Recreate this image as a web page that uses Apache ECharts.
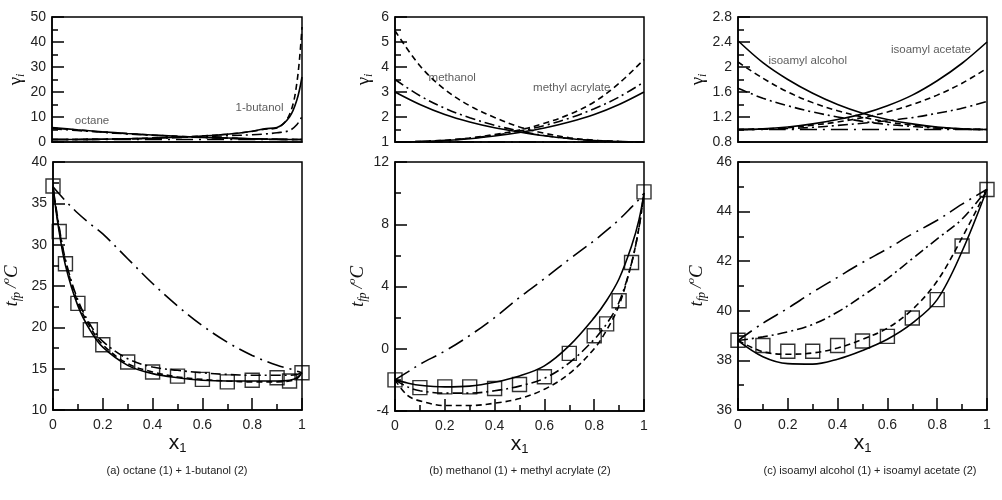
<!DOCTYPE html>
<html>
<head>
<meta charset="utf-8">
<script src="https://cdn.jsdelivr.net/npm/echarts@6/dist/echarts.min.js"></script>
<style>
    html, body { margin: 0; padding: 0; background: #fff; }
    #chart { width: 1002px; height: 500px; }
</style>
</head>
<body>
<div id="chart"></div>
<script>
// ---- data ----
// (a) octane (1) + 1-butanol (2), activity coefficients
const X_A_TOP = [0, 0.1, 0.2, 0.3, 0.4, 0.5, 0.6, 0.7, 0.8, 0.85, 0.9, 0.95, 0.98, 1];
const GA1_SOLID = [5.8, 4.9, 4.1, 3.4, 2.8, 2.3, 1.9, 1.6, 1.3, 1.18, 1.08, 1.02, 1.0, 1.0];
const GA1_DASH = [5.6, 4.8, 4.0, 3.35, 2.75, 2.25, 1.85, 1.55, 1.28, 1.16, 1.07, 1.02, 1.0, 1.0];
const GA1_DD = [5.3, 4.6, 3.9, 3.25, 2.7, 2.2, 1.8, 1.5, 1.25, 1.15, 1.07, 1.02, 1.0, 1.0];
const GA2_SOLID = [1.0, 1.03, 1.12, 1.3, 1.55, 1.9, 2.4, 3.1, 4.3, 5.3, 5.8, 10, 17, 26];
const GA2_DASH = [1.0, 1.03, 1.12, 1.3, 1.55, 1.9, 2.4, 3.1, 4.2, 5.1, 5.6, 11, 24, 46];
const GA2_DD = [1.0, 1.03, 1.1, 1.25, 1.45, 1.75, 2.1, 2.5, 2.9, 3.2, 3.7, 4.6, 7.0, 10.2];

// (a) flash points
const X_A_BOT = [0, 0.02, 0.05, 0.1, 0.15, 0.2, 0.3, 0.4, 0.5, 0.6, 0.7, 0.8, 0.9, 0.95, 0.98, 1];
const TA_SOLID = [37, 32.5, 27.5, 22.6, 19.6, 17.6, 15.4, 14.4, 13.9, 13.6, 13.5, 13.5, 13.5, 13.6, 13.9, 14.5];
const TA_DASH = [37, 32.8, 28.0, 23.0, 20.0, 17.9, 15.6, 14.6, 14.0, 13.7, 13.5, 13.4, 13.4, 13.5, 13.8, 14.5];
const TA_DD = [37, 33.0, 28.2, 23.3, 20.3, 18.3, 16.2, 15.2, 14.8, 14.5, 14.3, 14.2, 14.2, 14.2, 14.3, 14.5];
const TA_IDEAL = [37, 36.3, 35.3, 33.8, 32.5, 31.3, 28.3, 25.3, 22.6, 20.2, 18.2, 16.6, 15.4, 15.0, 14.7, 14.5];
const XA_EXP = [0, 0.025, 0.05, 0.1, 0.15, 0.2, 0.3, 0.4, 0.5, 0.6, 0.7, 0.8, 0.9, 0.95, 1];
const TA_EXP = [37.1, 31.6, 27.7, 22.9, 19.7, 17.9, 15.8, 14.6, 14.1, 13.7, 13.4, 13.6, 13.9, 13.5, 14.5];

// (b) methanol (1) + methyl acrylate (2)
const X_B_TOP = [0, 0.1, 0.2, 0.3, 0.4, 0.5, 0.6, 0.7, 0.8, 0.9, 1];
const GB1_SOLID = [3.0, 2.5, 2.1, 1.8, 1.57, 1.4, 1.25, 1.14, 1.06, 1.02, 1.0];
const GB1_DASH = [5.45, 4.05, 3.1, 2.45, 1.98, 1.6, 1.35, 1.17, 1.07, 1.02, 1.0];
const GB1_DD = [3.5, 2.85, 2.35, 1.97, 1.67, 1.44, 1.26, 1.14, 1.06, 1.02, 1.0];
const GB2_SOLID = [1.0, 1.02, 1.06, 1.13, 1.24, 1.38, 1.56, 1.8, 2.1, 2.5, 3.0];
const GB2_DASH = [1.0, 1.02, 1.07, 1.16, 1.3, 1.48, 1.75, 2.1, 2.6, 3.35, 4.3];
const GB2_DD = [1.0, 1.02, 1.07, 1.15, 1.27, 1.44, 1.66, 1.95, 2.33, 2.8, 3.4];

const X_B_BOT = [0, 0.05, 0.1, 0.2, 0.3, 0.4, 0.5, 0.6, 0.7, 0.8, 0.85, 0.9, 0.95, 0.98, 1];
const TB_SOLID = [-2.0, -2.2, -2.35, -2.45, -2.4, -2.15, -1.75, -1.1, 0.2, 2.0, 3.1, 4.5, 6.6, 8.3, 10.0];
const TB_DASH = [-2.0, -3.0, -3.35, -3.65, -3.65, -3.5, -3.2, -2.6, -1.6, 0.0, 1.2, 2.8, 5.5, 7.8, 10.0];
const TB_DD = [-2.0, -2.45, -2.7, -2.85, -2.85, -2.7, -2.4, -1.9, -0.9, 0.6, 1.6, 3.0, 5.5, 7.8, 10.0];
const TB_IDEAL = [-2.0, -1.5, -1.0, -0.15, 0.85, 2.0, 3.3, 4.5, 5.75, 6.95, 7.6, 8.3, 9.1, 9.6, 10.0];
const XB_EXP = [0, 0.1, 0.2, 0.3, 0.4, 0.5, 0.6, 0.7, 0.8, 0.85, 0.9, 0.95, 1];
const TB_EXP = [-2.0, -2.5, -2.45, -2.45, -2.55, -2.3, -1.8, -0.3, 0.84, 1.6, 3.08, 5.54, 10.08];

// (c) isoamyl alcohol (1) + isoamyl acetate (2)
const X_C_TOP = [0, 0.1, 0.2, 0.3, 0.4, 0.5, 0.6, 0.7, 0.8, 0.9, 1];
const GC1_SOLID = [2.42, 2.07, 1.8, 1.58, 1.4, 1.26, 1.16, 1.09, 1.04, 1.01, 1.0];
const GC1_DASH = [2.08, 1.82, 1.6, 1.43, 1.3, 1.2, 1.12, 1.07, 1.03, 1.01, 1.0];
const GC1_DD = [1.66, 1.5, 1.38, 1.28, 1.2, 1.13, 1.08, 1.05, 1.02, 1.005, 1.0];
const GC2_SOLID = [1.0, 1.01, 1.04, 1.09, 1.16, 1.25, 1.38, 1.55, 1.78, 2.06, 2.4];
const GC2_DASH = [1.0, 1.01, 1.03, 1.07, 1.12, 1.19, 1.28, 1.4, 1.55, 1.74, 1.98];
const GC2_DD = [1.0, 1.004, 1.015, 1.035, 1.065, 1.1, 1.14, 1.19, 1.26, 1.34, 1.45];

const X_C_BOT = [0, 0.1, 0.2, 0.3, 0.4, 0.5, 0.6, 0.7, 0.8, 0.9, 1];
const TC_SOLID = [38.8, 38.15, 37.87, 37.85, 38.05, 38.4, 38.85, 39.5, 40.45, 42.4, 44.9];
const TC_DASH = [38.8, 38.35, 38.25, 38.3, 38.5, 38.85, 39.3, 40.05, 41.2, 42.95, 44.9];
const TC_DD = [38.8, 38.95, 39.15, 39.45, 39.95, 40.6, 41.3, 42.1, 42.9, 43.7, 44.9];
const TC_IDEAL = [38.8, 39.5, 40.1, 40.75, 41.35, 41.95, 42.5, 43.1, 43.65, 44.3, 44.9];
const TC_EXP = [38.81, 38.6, 38.37, 38.37, 38.6, 38.78, 38.97, 39.71, 40.45, 42.61, 44.89];

// ideal solution: gamma = 1
const X_IDEAL = [0, 1];
const G_IDEAL = [1, 1];

// curve labels in the gamma panels [x, y, text]
const NOTES_A = [[0.16, 8.4, 'octane'], [0.83, 13.6, '1-butanol']];
const NOTES_B = [[0.23, 3.56, 'methanol'], [0.71, 3.16, 'methyl acrylate']];
const NOTES_C = [[0.28, 2.1, 'isoamyl alcohol'], [0.775, 2.27, 'isoamyl acetate']];

const CAPTIONS = ['(a) octane (1) + 1-butanol (2)', '(b) methanol (1) + methyl acrylate (2)', '(c) isoamyl alcohol (1) + isoamyl acetate (2)'];

// ---- styles ----
const SOLID = 'solid';
const SHORT = [6, 4];
const DASHDOT = [10, 4, 2, 4];
const LONGDD = [17, 6, 2, 6];
const SANS = 'Liberation Sans, Arial, sans-serif';
const SERIF = 'Liberation Serif, Times New Roman, serif';

// grid boxes: left, top, width, height
const GRIDS = [
    [52, 17, 250, 125], [52, 162, 250, 248],
    [395, 17, 249, 125], [395, 162, 249, 249],
    [738, 17, 249, 125], [738, 162, 249, 248]
];
// caption centres
const CAPTION_X = [177, 520, 870];

const chart = echarts.init(document.getElementById('chart'), null, { renderer: 'canvas' });

const curve = (xs, ys, idx, dash) => ({
    type: 'line',
    xAxisIndex: idx,
    yAxisIndex: idx,
    data: xs.map((x, i) => [x, ys[i]]),
    smooth: 0.35,
    symbol: 'none',
    silent: true,
    lineStyle: { color: '#000', width: 1.6, type: dash }
});

const squares = (xs, ys, idx) => ({
    type: 'scatter',
    xAxisIndex: idx,
    yAxisIndex: idx,
    data: xs.map((x, i) => [x, ys[i]]),
    symbol: 'rect',
    symbolSize: 14,
    silent: true,
    z: 5,
    itemStyle: { color: 'rgba(255,255,255,0)', borderColor: '#000', borderWidth: 1.4 }
});

const notes = (arr, idx) => ({
    type: 'scatter',
    xAxisIndex: idx,
    yAxisIndex: idx,
    data: arr.map(n => ({ value: [n[0], n[1]], name: n[2] })),
    symbolSize: 1,
    silent: true,
    itemStyle: { color: 'rgba(0,0,0,0)' },
    label: { show: true, position: 'inside', formatter: '{b}', color: '#333', fontSize: 11.5, fontFamily: SANS }
});

const gammaName = '{g|γ}{s|i}';
const tName = '{t|t}{s|fp}{n| /}{o|o}{c|C}';
const nameRich = {
    g: { fontFamily: SERIF, fontSize: 19, lineHeight: 22, verticalAlign: 'middle', color: '#111' },
    t: { fontFamily: SERIF, fontSize: 19, fontStyle: 'italic', lineHeight: 22, verticalAlign: 'middle', color: '#111' },
    c: { fontFamily: SERIF, fontSize: 19, fontStyle: 'italic', lineHeight: 22, verticalAlign: 'middle', color: '#111' },
    n: { fontFamily: SERIF, fontSize: 16, fontStyle: 'italic', lineHeight: 22, verticalAlign: 'middle', color: '#111' },
    s: { fontFamily: SERIF, fontSize: 12, fontStyle: 'italic', lineHeight: 12, verticalAlign: 'bottom', color: '#111' },
    o: { fontFamily: SERIF, fontSize: 11, fontStyle: 'italic', lineHeight: 12, verticalAlign: 'top', color: '#111' }
};

const xAx = (idx, bottom) => ({
    gridIndex: idx,
    type: 'value',
    min: 0,
    max: 1,
    interval: 0.2,
    name: bottom ? '{x|x}{s|1}' : '',
    nameLocation: 'middle',
    nameGap: 21,
    nameTextStyle: {
        rich: {
            x: { fontFamily: SANS, fontSize: 21, lineHeight: 24, verticalAlign: 'middle', color: '#111' },
            s: { fontFamily: SANS, fontSize: 13, lineHeight: 12, verticalAlign: 'bottom', color: '#111' }
        }
    },
    axisLine: { onZero: false, lineStyle: { color: '#000', width: 1.5 } },
    axisTick: { show: bottom, inside: true, length: 12, lineStyle: { color: '#000', width: 1.5 } },
    minorTick: { show: bottom, splitNumber: 2, length: 6, lineStyle: { color: '#000', width: 1.5 } },
    axisLabel: { show: bottom, margin: 8, fontSize: 14, color: '#222', fontFamily: SANS },
    splitLine: { show: false }
});

const yAx = (idx, min, max, interval, name, gap) => ({
    gridIndex: idx,
    type: 'value',
    min: min,
    max: max,
    interval: interval,
    name: name,
    nameLocation: 'middle',
    nameRotate: 90,
    nameGap: gap,
    nameTextStyle: { rich: nameRich },
    axisLine: { onZero: false, lineStyle: { color: '#000', width: 1.5 } },
    axisTick: { inside: true, length: 12, lineStyle: { color: '#000', width: 1.5 } },
    minorTick: { show: true, splitNumber: 2, length: 6, lineStyle: { color: '#000', width: 1.5 } },
    axisLabel: { margin: 6, fontSize: 14, color: '#222', fontFamily: SANS },
    splitLine: { show: false }
});

const gammaSeries = (xs, s1, d1, dd1, s2, d2, dd2, idx) => [
    curve(X_IDEAL, G_IDEAL, idx, LONGDD),
    curve(xs, s1, idx, SOLID), curve(xs, d1, idx, SHORT), curve(xs, dd1, idx, DASHDOT),
    curve(xs, s2, idx, SOLID), curve(xs, d2, idx, SHORT), curve(xs, dd2, idx, DASHDOT)
];

const tempSeries = (xs, s, d, dd, ideal, xe, te, idx) => [
    curve(xs, ideal, idx, LONGDD), curve(xs, s, idx, SOLID),
    curve(xs, d, idx, SHORT), curve(xs, dd, idx, DASHDOT),
    squares(xe, te, idx)
];

const option = {
    animation: false,
    backgroundColor: '#fff',
    grid: GRIDS.map(g => ({
        left: g[0], top: g[1], width: g[2], height: g[3],
        show: true, borderColor: '#000', borderWidth: 1.5, backgroundColor: 'transparent'
    })),
    xAxis: [xAx(0, false), xAx(1, true), xAx(2, false), xAx(3, true), xAx(4, false), xAx(5, true)],
    yAxis: [
        yAx(0, 0, 50, 10, gammaName, 22),
        yAx(1, 10, 40, 5, tName, 30),
        yAx(2, 1, 6, 1, gammaName, 20),
        yAx(3, -4, 12, 4, tName, 26),
        yAx(4, 0.8, 2.8, 0.4, gammaName, 26),
        yAx(5, 36, 46, 2, tName, 30)
    ],
    graphic: CAPTIONS.map((c, i) => ({
        type: 'text',
        x: CAPTION_X[i],
        y: 471,
        style: { text: c, font: '11px ' + SANS, fill: '#222', textAlign: 'center', textVerticalAlign: 'middle' }
    })),
    series: [].concat(
        gammaSeries(X_A_TOP, GA1_SOLID, GA1_DASH, GA1_DD, GA2_SOLID, GA2_DASH, GA2_DD, 0),
        tempSeries(X_A_BOT, TA_SOLID, TA_DASH, TA_DD, TA_IDEAL, XA_EXP, TA_EXP, 1),
        gammaSeries(X_B_TOP, GB1_SOLID, GB1_DASH, GB1_DD, GB2_SOLID, GB2_DASH, GB2_DD, 2),
        tempSeries(X_B_BOT, TB_SOLID, TB_DASH, TB_DD, TB_IDEAL, XB_EXP, TB_EXP, 3),
        gammaSeries(X_C_TOP, GC1_SOLID, GC1_DASH, GC1_DD, GC2_SOLID, GC2_DASH, GC2_DD, 4),
        tempSeries(X_C_BOT, TC_SOLID, TC_DASH, TC_DD, TC_IDEAL, X_C_BOT, TC_EXP, 5),
        [notes(NOTES_A, 0), notes(NOTES_B, 2), notes(NOTES_C, 4)]
    )
};

chart.setOption(option);
</script>
</body>
</html>
